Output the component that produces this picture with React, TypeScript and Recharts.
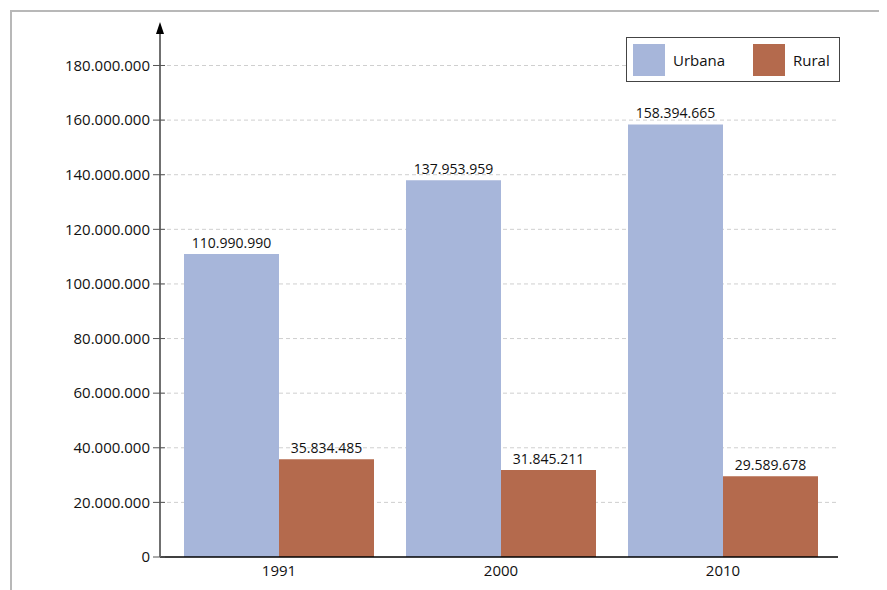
import { BarChart, Bar, XAxis, YAxis, CartesianGrid, LabelList } from 'recharts'

const years = ['1991', '2000', '2010']
const urbana = [110990990, 137953959, 158394665]
const rural = [35834485, 31845211, 29589678]
const yTicks = [0, 20000000, 40000000, 60000000, 80000000, 100000000, 120000000, 140000000, 160000000, 180000000]

const data = years.map((y, i) => ({ year: y, urbana: urbana[i], rural: rural[i] }))

const URBANA = '#a7b6da'
const RURAL = '#b46a4d'
const FONT = '"Open Sans", "Noto Sans", sans-serif'

function fmt(n: number) {
  return String(n).replace(/\B(?=(\d{3})+(?!\d))/g, '.')
}

function YTick(props: any) {
  const { x, y, payload } = props
  return (
    <g>
      <line x1={x + 3} x2={x + 15} y1={y} y2={y} stroke="#555" strokeWidth={1} />
      <text x={x} y={y} dy="0.35em" textAnchor="end" fontSize={15} fill="#111" fontFamily={FONT}>
        {fmt(payload.value)}
      </text>
    </g>
  )
}

function LegendBox() {
  const item = (color: string, label: string) => (
    <div style={{ display: 'flex', alignItems: 'center' }}>
      <div style={{ width: 32, height: 32, background: color, marginRight: 8 }} />
      <span style={{ fontSize: 15, color: '#111', fontFamily: FONT, width: 80 }}>{label}</span>
    </div>
  )
  return (
    <div
      style={{
        position: 'absolute',
        left: 618,
        top: 29,
        display: 'flex',
        alignItems: 'center',
        border: '1.5px solid #444',
        background: '#fff',
        padding: '5px 0 5px 6px',
        width: 214,
        height: 45,
        boxSizing: 'border-box',
      }}
    >
      {item(URBANA, 'Urbana')}
      {item(RURAL, 'Rural')}
    </div>
  )
}

export default function App() {
  return (
    <div style={{ position: 'relative', width: 879, height: 582 }}>
      <style>{'body{overflow:hidden}'}</style>
      <div
        style={{
          position: 'absolute',
          left: 2,
          top: 2,
          right: -20,
          bottom: -20,
          borderLeft: '2px solid #b8b8b8',
          borderTop: '2px solid #b8b8b8',
        }}
      />
      <div style={{ position: 'absolute', left: 0, top: 0 }}>
        <BarChart
          width={879}
          height={582}
          data={data}
          margin={{ top: 22, right: 49, bottom: 3, left: 0 }}
          barCategoryGap={16}
          barGap={0}
          style={{ fontFamily: FONT }}
        >
          <defs>
            <marker
              id="arrowUp"
              markerUnits="userSpaceOnUse"
              markerWidth={8}
              markerHeight={12}
              refX={4}
              refY={8}
              orient="0"
            >
              <path d="M0,12 L4,0 L8,12 Z" fill="#000" />
            </marker>
          </defs>
          <CartesianGrid vertical={false} stroke="#cfcfcf" strokeDasharray="4 3" horizontalValues={yTicks.slice(1)} />
          <XAxis
            dataKey="year"
            height={30}
            padding={{ left: 8, right: 4 }}
            tickLine={false}
            axisLine={{ stroke: '#000', strokeWidth: 1.5 }}
            tickSize={0}
            tickMargin={8}
            tick={{ fontSize: 15, fill: '#111', fontFamily: FONT }}
          />
          <YAxis
            width={152}
            domain={[0, 193000000]}
            ticks={yTicks}
            allowDataOverflow
            tickLine={false}
            tickSize={0}
            tickMargin={10}
            axisLine={{ stroke: '#707070', strokeWidth: 2, markerStart: 'url(#arrowUp)' }}
            tick={<YTick />}
          />
          <Bar dataKey="urbana" name="Urbana" fill={URBANA} isAnimationActive={false}>
            <LabelList dataKey="urbana" position="top" offset={6} fontSize={14} fill="#111" formatter={(v: any) => fmt(v)} />
          </Bar>
          <Bar dataKey="rural" name="Rural" fill={RURAL} isAnimationActive={false}>
            <LabelList dataKey="rural" position="top" offset={6} fontSize={14} fill="#111" formatter={(v: any) => fmt(v)} />
          </Bar>
        </BarChart>
      </div>
      <LegendBox />
    </div>
  )
}
